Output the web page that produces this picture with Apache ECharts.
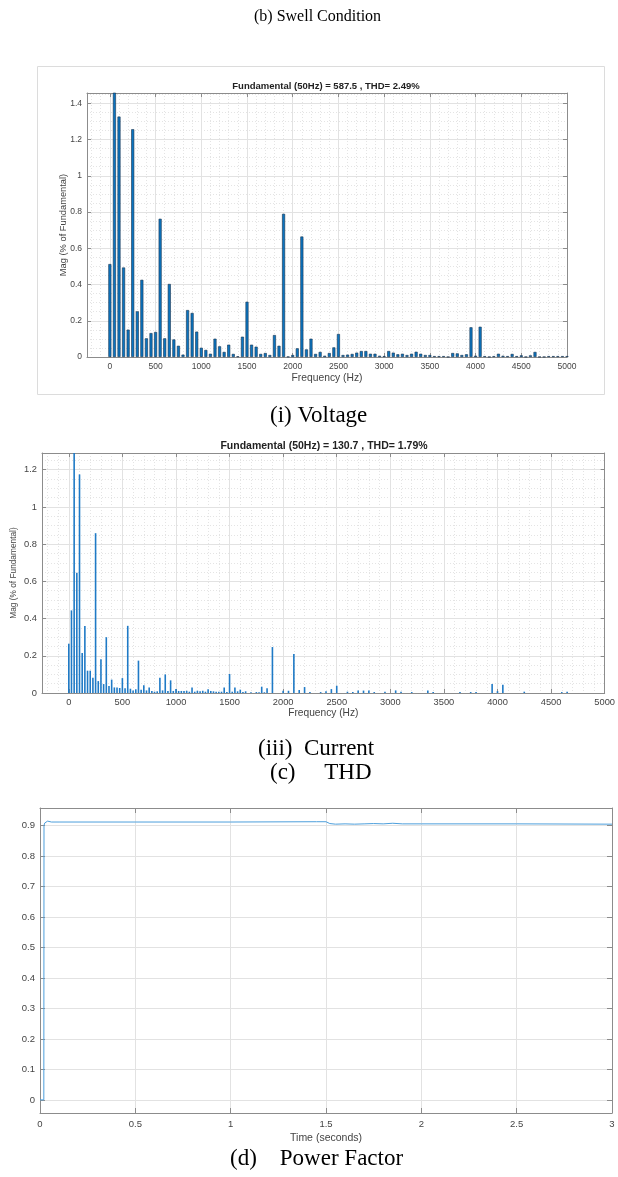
<!DOCTYPE html>
<html>
<head>
<meta charset="utf-8">
<script src="https://cdn.jsdelivr.net/npm/echarts@6/dist/echarts.min.js"></script>
<style>
html, body { margin: 0; padding: 0; background: #fff; }
#main { width: 618px; height: 1177px; }
</style>
</head>
<body>
<div id="main"></div>
<script>
(function(){
var myChart = echarts.init(document.getElementById('main'));

// voltage spectrum, one bin every 50 Hz (0 .. 5000)
var voltFreq = [
  0, 50, 100, 150, 200, 250, 300, 350, 400, 450,
  500, 550, 600, 650, 700, 750, 800, 850, 900, 950,
  1000, 1050, 1100, 1150, 1200, 1250, 1300, 1350, 1400, 1450,
  1500, 1550, 1600, 1650, 1700, 1750, 1800, 1850, 1900, 1950,
  2000, 2050, 2100, 2150, 2200, 2250, 2300, 2350, 2400, 2450,
  2500, 2550, 2600, 2650, 2700, 2750, 2800, 2850, 2900, 2950,
  3000, 3050, 3100, 3150, 3200, 3250, 3300, 3350, 3400, 3450,
  3500, 3550, 3600, 3650, 3700, 3750, 3800, 3850, 3900, 3950,
  4000, 4050, 4100, 4150, 4200, 4250, 4300, 4350, 4400, 4450,
  4500, 4550, 4600, 4650, 4700, 4750, 4800, 4850, 4900, 4950,
  5000
];
var voltMag = [
  0.513, 1.46, 1.327, 0.494, 0.151, 1.257, 0.252, 0.426, 0.103, 0.132,
  0.138, 0.763, 0.103, 0.403, 0.097, 0.062, 0.013, 0.259, 0.243, 0.140,
  0.051, 0.039, 0.018, 0.101, 0.059, 0.028, 0.068, 0.017, 0.004, 0.112,
  0.305, 0.068, 0.057, 0.017, 0.022, 0.011, 0.121, 0.062, 0.790, 0.002,
  0.011, 0.048, 0.665, 0.042, 0.101, 0.017, 0.028, 0.007, 0.022, 0.053,
  0.127, 0.011, 0.013, 0.017, 0.024, 0.033, 0.033, 0.018, 0.018, 0.007,
  0.005, 0.033, 0.024, 0.015, 0.018, 0.011, 0.018, 0.029, 0.018, 0.011,
  0.011, 0.005, 0.005, 0.005, 0.001, 0.022, 0.020, 0.011, 0.015, 0.164,
  0.007, 0.167, 0.005, 0.001, 0.005, 0.018, 0.007, 0.005, 0.017, 0.005,
  0.009, 0.001, 0.009, 0.028, 0.001, 0.001, 0.005, 0.005, 0.005, 0.005,
  0.005
];

// current spectrum, visible bins only (25 Hz resolution)
var currFreq = [
  0, 25, 50, 75, 100, 125, 150, 175, 200, 225,
  250, 275, 300, 325, 350, 375, 400, 425, 450, 475,
  500, 525, 550, 575, 600, 625, 650, 675, 700, 725,
  750, 775, 800, 825, 850, 875, 900, 925, 950, 975,
  1000, 1025, 1050, 1075, 1100, 1125, 1150, 1175, 1200, 1225,
  1250, 1275, 1300, 1325, 1350, 1375, 1400, 1425, 1450, 1475,
  1500, 1525, 1550, 1575, 1600, 1625, 1650, 1700, 1750, 1775,
  1800, 1825, 1850, 1900, 2000, 2050, 2100, 2150, 2200, 2250,
  2350, 2400, 2450, 2500, 2600, 2650, 2700, 2750, 2800, 2850,
  2950, 3050, 3100, 3200, 3350, 3400, 3650, 3750, 3800, 3950,
  4000, 4050, 4250, 4600, 4650
];
var currMag = [
  0.265, 0.444, 1.30, 0.646, 1.175, 0.215, 0.360, 0.120, 0.120, 0.082,
  0.859, 0.064, 0.182, 0.048, 0.300, 0.038, 0.072, 0.030, 0.030, 0.027,
  0.080, 0.025, 0.361, 0.023, 0.014, 0.020, 0.174, 0.018, 0.041, 0.014,
  0.030, 0.011, 0.007, 0.009, 0.082, 0.014, 0.100, 0.011, 0.068, 0.011,
  0.021, 0.011, 0.011, 0.011, 0.012, 0.007, 0.030, 0.007, 0.012, 0.009,
  0.012, 0.007, 0.020, 0.011, 0.009, 0.007, 0.007, 0.007, 0.029, 0.005,
  0.102, 0.007, 0.030, 0.009, 0.018, 0.005, 0.009, 0.004, 0.005, 0.004,
  0.034, 0.004, 0.025, 0.247, 0.012, 0.012, 0.209, 0.016, 0.032, 0.005,
  0.005, 0.009, 0.021, 0.039, 0.007, 0.005, 0.013, 0.013, 0.013, 0.005,
  0.007, 0.014, 0.007, 0.005, 0.013, 0.005, 0.005, 0.005, 0.005, 0.048,
  0.010, 0.045, 0.007, 0.005, 0.007
];

// power factor vs time
var pfTime = [0, 0.020, 0.021, 0.025, 0.030, 0.035, 0.040, 0.045, 0.050, 0.060,
  0.10, 0.50, 1.00, 1.45, 1.50, 1.52, 1.55, 1.60, 1.65, 1.70,
  1.75, 1.80, 1.85, 1.90, 2.00, 2.50, 3.00];
var pfValue = [0, 0, 0.900, 0.908, 0.913, 0.909, 0.914, 0.910, 0.912, 0.911,
  0.911, 0.911, 0.911, 0.912, 0.912, 0.906, 0.904, 0.905, 0.904, 0.905,
  0.906, 0.905, 0.907, 0.905, 0.905, 0.905, 0.904];

// tick labels
var freqTicks = [0, 500, 1000, 1500, 2000, 2500, 3000, 3500, 4000, 4500, 5000];
var pfTicks = [0, 0.1, 0.2, 0.3, 0.4, 0.5, 0.6, 0.7, 0.8, 0.9];
var minorFreq = [];
for (var f = -200; f <= 5000; f += 100) minorFreq.push(f);

function pairs(xs, ys) {
  return xs.map(function (x, i) { return [x, ys[i]]; });
}
function plain(v) { return String(v); }

var sans = 'Liberation Sans, Arial, sans-serif';
var serif = 'Liberation Serif, Times New Roman, serif';
var boxGray = '#8c8c8c';
var txtGray = '#444';
var majorLine = {show: true, lineStyle: {color: '#e2e2e2', width: 1}};
var minorLine = {show: true, lineStyle: {color: '#e4e4e4', width: 1, type: [1, 2]}};
var boxLine = {show: true, onZero: false, lineStyle: {color: boxGray}};

function freqAxes(grid, gap, tickSize, nameSize) {
  return [{
    type: 'value', gridIndex: grid, min: -250, max: 5000, position: 'bottom',
    name: 'Frequency (Hz)', nameLocation: 'middle', nameGap: gap, nameMoveOverlap: false,
    nameTextStyle: {fontSize: nameSize, color: txtGray, fontFamily: sans},
    axisLine: boxLine,
    axisTick: {show: true, inside: true, length: 4, customValues: freqTicks, lineStyle: {color: boxGray}},
    axisLabel: {customValues: freqTicks, fontSize: tickSize, color: txtGray, fontFamily: sans, margin: 5, formatter: plain},
    splitLine: majorLine
  }, {
    type: 'value', gridIndex: grid, min: -250, max: 5000, position: 'top',
    axisLine: boxLine,
    axisTick: {show: true, inside: true, length: 4, customValues: freqTicks, lineStyle: {color: boxGray}},
    axisLabel: {show: false}, splitLine: {show: false}
  }, {
    type: 'value', gridIndex: grid, min: -250, max: 5000,
    axisLine: {show: false, onZero: false},
    axisTick: {show: false, customValues: minorFreq},
    axisLabel: {show: false}, splitLine: minorLine, z: -1
  }];
}

function magAxes(grid, max, gap, tickSize, nameSize) {
  return [{
    type: 'value', gridIndex: grid, min: 0, max: max, interval: 0.2, position: 'left',
    name: 'Mag (% of Fundamental)', nameLocation: 'middle', nameGap: gap, nameMoveOverlap: false,
    nameTextStyle: {fontSize: nameSize, color: txtGray, fontFamily: sans},
    axisLine: boxLine,
    axisTick: {show: true, inside: true, length: 4, lineStyle: {color: boxGray}},
    axisLabel: {fontSize: tickSize, color: txtGray, fontFamily: sans, margin: 5, showMaxLabel: false},
    splitLine: majorLine,
    minorTick: {show: false, splitNumber: 4},
    minorSplitLine: minorLine
  }, {
    type: 'value', gridIndex: grid, min: 0, max: max, interval: 0.2, position: 'right',
    axisLine: boxLine,
    axisTick: {show: true, inside: true, length: 4, lineStyle: {color: boxGray}},
    axisLabel: {show: false}, splitLine: {show: false}
  }];
}

var xAxes = freqAxes(0, 16, 8.5, 10.3).concat(freqAxes(1, 15, 9.3, 10.2)).concat([{
  type: 'value', gridIndex: 2, min: 0, max: 3, interval: 0.5, position: 'bottom',
  name: 'Time (seconds)', nameLocation: 'middle', nameGap: 20, nameMoveOverlap: false,
  nameTextStyle: {fontSize: 10.5, color: txtGray, fontFamily: sans},
  axisLine: boxLine,
  axisTick: {show: true, inside: true, length: 5, lineStyle: {color: boxGray}},
  axisLabel: {fontSize: 9.5, color: txtGray, fontFamily: sans, margin: 6},
  splitLine: majorLine
}, {
  type: 'value', gridIndex: 2, min: 0, max: 3, interval: 0.5, position: 'top',
  axisLine: boxLine,
  axisTick: {show: true, inside: true, length: 5, lineStyle: {color: boxGray}},
  axisLabel: {show: false}, splitLine: {show: false}
}]);

var yAxes = magAxes(0, 1.457, 19, 8.5, 9.3).concat(magAxes(1, 1.29, 24, 9.3, 8.3)).concat([{
  type: 'value', gridIndex: 2, min: -0.043, max: 0.957, position: 'left',
  axisLine: boxLine,
  axisTick: {show: true, inside: true, length: 5, customValues: pfTicks, lineStyle: {color: boxGray}},
  axisLabel: {customValues: pfTicks, fontSize: 9.5, color: txtGray, fontFamily: sans, margin: 5},
  splitLine: majorLine
}, {
  type: 'value', gridIndex: 2, min: -0.043, max: 0.957, position: 'right',
  axisLine: boxLine,
  axisTick: {show: true, inside: true, length: 5, customValues: pfTicks, lineStyle: {color: boxGray}},
  axisLabel: {show: false}, splitLine: {show: false}
}]);

function caption(text, x, y, size) {
  return {
    type: 'text', left: x, top: y,
    style: {text: text, font: size + 'px ' + serif, fill: '#000'}
  };
}
function plotTitle(text, cx, y, size) {
  return {
    type: 'text', x: cx, y: y,
    style: {text: text, font: 'bold ' + size + 'px ' + sans, fill: '#222', align: 'center', verticalAlign: 'middle'}
  };
}

option = {
  animation: false,
  backgroundColor: '#fff',
  grid: [
    {left: 87, top: 93, width: 480, height: 264},
    {left: 42, top: 453, width: 565, height: 240},
    {left: 40, top: 808, width: 572, height: 305}
  ],
  xAxis: xAxes,
  yAxis: yAxes,
  graphic: [
    {type: 'rect', shape: {x: 37.5, y: 66.5, width: 567, height: 328},
     style: {fill: 'none', stroke: '#dcdcdc', lineWidth: 1}, z: -10},
    plotTitle('Fundamental (50Hz) = 587.5 , THD= 2.49%', 326, 86, 9.5),
    plotTitle('Fundamental (50Hz) = 130.7 , THD= 1.79%', 324, 446, 10.5),
    caption('(b) Swell Condition', 254, 9, 16),
    caption('(i) Voltage', 270, 404, 23),
    caption('(iii)  Current', 258, 737, 23),
    caption('(c)     THD', 270, 761, 23),
    caption('(d)    Power Factor', 230, 1147, 23)
  ],
  series: [{
    type: 'bar', xAxisIndex: 0, yAxisIndex: 0,
    data: pairs(voltFreq, voltMag),
    barWidth: 3,
    itemStyle: {color: '#0b74c0', borderColor: '#17324d', borderWidth: 0.6}
  }, {
    type: 'bar', xAxisIndex: 3, yAxisIndex: 2,
    data: pairs(currFreq, currMag),
    barWidth: 1.6,
    itemStyle: {color: '#1f7ac6'}
  }, {
    type: 'line', xAxisIndex: 6, yAxisIndex: 4,
    data: pairs(pfTime, pfValue),
    showSymbol: false,
    lineStyle: {color: '#4d9fdc', width: 1}
  }]
};
myChart.setOption(option);
})();
</script>
</body>
</html>
